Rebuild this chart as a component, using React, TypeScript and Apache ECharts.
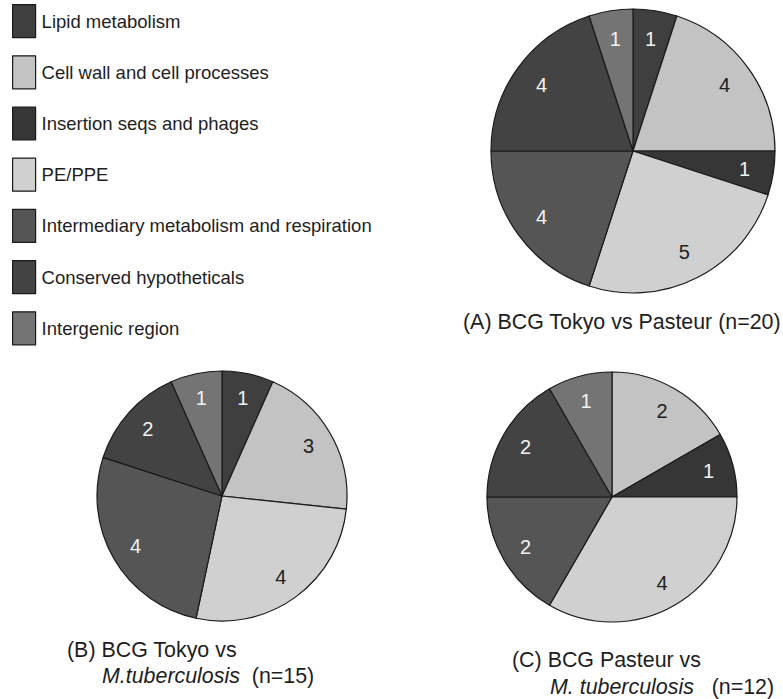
import React, { useEffect, useRef } from "react";
import * as echarts from "echarts";

const categories = [
  "Lipid metabolism",
  "Cell wall and cell processes",
  "Insertion seqs and phages",
  "PE/PPE",
  "Intermediary metabolism and respiration",
  "Conserved hypotheticals",
  "Intergenic region",
];
const colors = ["#3f3f3f", "#c3c3c3", "#363636", "#d0d0d0", "#555555", "#434343", "#747474"];
const labelColors = ["#f2f2f2", "#222222", "#f2f2f2", "#222222", "#f2f2f2", "#f2f2f2", "#f2f2f2"];

const valuesA = [1, 4, 1, 5, 4, 4, 1];
const valuesB = [1, 3, 0, 4, 4, 2, 1];
const valuesC = [0, 2, 1, 4, 2, 2, 1];

const captionA = "(A) BCG Tokyo vs Pasteur (n=20)";
const captionB1 = "(B) BCG Tokyo vs";
const captionB2 = ["M.tuberculosis", "  (n=15)"];
const captionC1 = "(C) BCG Pasteur vs";
const captionC2 = ["M. tuberculosis", "   (n=12)"];

const FONT = "'Liberation Sans', Arial, Helvetica, sans-serif";
const CAP_SIZE = 21.4;

function buildData(values: number[]) {
  return categories
    .map((name, i) => ({
      name,
      value: values[i],
      itemStyle: { color: colors[i] },
      label: { color: labelColors[i] },
    }))
    .filter((d) => d.value > 0);
}

function pieSeries(values: number[], center: number[], r: number) {
  const base = {
    type: "pie",
    center,
    startAngle: 90,
    clockwise: true,
    avoidLabelOverlap: false,
    labelLine: { show: false },
  };
  return [
    {
      ...base,
      radius: [0, r],
      itemStyle: { borderColor: "#1a1a1a", borderWidth: 1.2 },
      label: { show: false },
      emphasis: { disabled: true },
      data: buildData(values),
    },
    {
      ...base,
      radius: [r * 0.55, r],
      silent: true,
      z: 3,
      itemStyle: { color: "rgba(0,0,0,0)", borderWidth: 0 },
      label: {
        show: true,
        position: "inside",
        formatter: "{c}",
        fontSize: 20,
        fontFamily: FONT,
      },
      emphasis: { disabled: true },
      data: buildData(values).map((d) => ({ ...d, itemStyle: { color: "rgba(0,0,0,0)" } })),
    },
  ];
}

export default function App() {
  const ref = useRef<HTMLDivElement>(null);
  useEffect(() => {
    if (!ref.current) return;
    const chart = echarts.init(ref.current, null, { renderer: "svg" });
    const capStyle = { fontSize: CAP_SIZE, fontFamily: FONT, fill: "#1e1e1e" };
    const italic = { fontStyle: "italic", fontSize: CAP_SIZE, fontFamily: FONT, fill: "#1e1e1e" };
    chart.setOption({
      animation: false,
      backgroundColor: "#ffffff",
      legend: {
        orient: "vertical",
        left: 12,
        top: 4,
        padding: 0,
        itemWidth: 23,
        itemHeight: 33,
        itemGap: 17,
        icon: "rect",
        selectedMode: false,
        data: categories,
        itemStyle: { borderColor: "#1a1a1a", borderWidth: 1.2 },
        textStyle: { fontSize: 18.5, fontFamily: FONT, color: "#1e1e1e", padding: [0, 0, 0, 1] },
      },
      series: [
        ...pieSeries(valuesA, [633, 151], 142),
        ...pieSeries(valuesB, [222, 496], 125),
        ...pieSeries(valuesC, [612, 497], 125),
      ],
      graphic: [
        { type: "text", x: 463, y: 322, style: { ...capStyle, text: captionA, verticalAlign: "middle" } },
        { type: "text", x: 67, y: 650, style: { ...capStyle, text: captionB1, verticalAlign: "middle" } },
        {
          type: "text",
          x: 102,
          y: 676,
          style: {
            ...capStyle,
            verticalAlign: "middle",
            text: "{i|" + captionB2[0] + "}" + captionB2[1],
            rich: { i: italic },
          },
        },
        { type: "text", x: 512, y: 660, style: { ...capStyle, text: captionC1, verticalAlign: "middle" } },
        {
          type: "text",
          x: 550,
          y: 687,
          style: {
            ...capStyle,
            verticalAlign: "middle",
            text: "{i|" + captionC2[0] + "}" + captionC2[1],
            rich: { i: italic },
          },
        },
      ],
    });
    return () => chart.dispose();
  }, []);
  return <div ref={ref} style={{ position: "absolute", left: 0, top: 0, width: 783, height: 699 }} />;
}
